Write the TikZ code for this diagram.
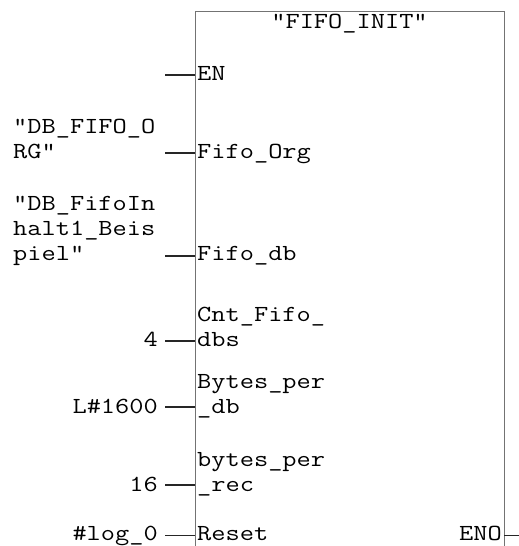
\documentclass[tikz,border=0pt]{standalone}
\usepackage{fontspec}
\newfontfamily\plcfont[FakeStretch=1.2]{Latin Modern Mono}
\newcommand{\dq}{\char34\relax}
\begin{document}
\begin{tikzpicture}[x=1pt,y=-1pt,
  txt/.style={inner sep=0pt,font=\plcfont\fontsize{23}{25}\selectfont,text=black},
  pinl/.style={txt,anchor=base west,align=left},
  argl/.style={txt,anchor=base west,align=left},
  argr/.style={txt,anchor=base east},
  wire/.style={line width=1.4pt,draw=black!85},
  blockline/.style={line width=1.4pt,draw=black!55}]
\useasboundingbox (0,0) rectangle (519,546);
\fill[white] (0,0) rectangle (519,546);
% block
\node[blockline,rectangle,minimum width=309pt,minimum height=600pt,anchor=north west,inner sep=0pt] (fb) at (195,11) {};
\node[txt,anchor=base] (title) at (349.5,28) {\dq FIFO\_INIT\dq};
% pin labels
\node[pinl] (pEN) at (197,80) {EN};
\node[pinl] (pOrg) at (197,158) {Fifo\_Org};
\node[pinl] (pDb) at (197,260) {Fifo\_db};
\node[pinl] (pCnt) at (197,346) {dbs};
\node[pinl] (pCntA) at (197,321) {Cnt\_Fifo\_};
\node[pinl] (pBy) at (197,413) {\_db};
\node[pinl] (pByA) at (197,388) {Bytes\_per};
\node[pinl] (pRec) at (197,491) {\_rec};
\node[pinl] (pRecA) at (197,466) {bytes\_per};
\node[pinl] (pRes) at (197,540.5) {Reset};
\node[txt,anchor=base east] (pENO) at (502,540.5) {ENO};
% arguments
\node[argl] (aOrgA) at (13,133) {\dq DB\_FIFO\_O};
\node[argl] (aOrg) at (13,158) {RG\dq};
\node[argl] (aDbA) at (13,210) {\dq DB\_FifoIn};
\node[argl] (aDbB) at (13,235) {halt1\_Beis};
\node[argl] (aDb) at (13,260) {piel\dq};
\node[argr] (aCnt) at (158,346) {4};
\node[argr] (aBy) at (158,413) {L\#1600};
\node[argr] (aRec) at (158,491) {16};
\node[argr] (aRes) at (158,540.5) {\#log\_0};
% connector ends
\coordinate (sEN) at (165,75);   \coordinate (eEN) at (195,75);
\coordinate (sOrg) at (165,153); \coordinate (eOrg) at (195,153);
\coordinate (sDb) at (165,256);  \coordinate (eDb) at (195,256);
\coordinate (sCnt) at (165,341); \coordinate (eCnt) at (195,341);
\coordinate (sBy) at (165,407);  \coordinate (eBy) at (195,407);
\coordinate (sRec) at (165,485); \coordinate (eRec) at (195,485);
\coordinate (sRes) at (165,535.5); \coordinate (eRes) at (195,535.5);
\coordinate (sENO) at (504,535.5); \coordinate (eENO) at (519,535.5);
\foreach \p in {EN,Org,Db,Cnt,By,Rec,Res,ENO}{\draw[wire] (s\p) -- (e\p);}
\end{tikzpicture}
\end{document}
